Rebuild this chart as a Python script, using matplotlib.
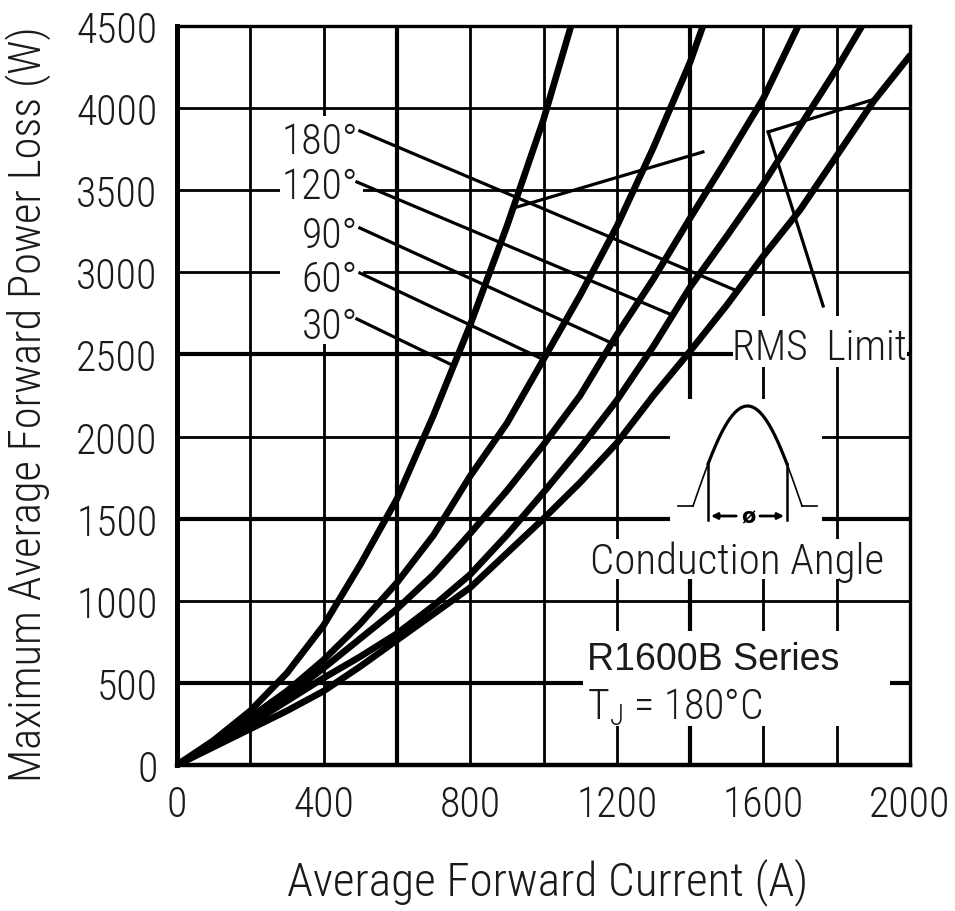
import numpy as np
import matplotlib
matplotlib.use('Agg')
import matplotlib.pyplot as plt
from matplotlib import font_manager
from matplotlib.font_manager import FontProperties
from matplotlib.patches import Rectangle

# values (A, W)
current_30 = [0, 100, 200, 300, 400, 500, 600, 700, 800, 900, 1000, 1075]
loss_30 = [0, 150, 330, 560, 850, 1220, 1620, 2130, 2680, 3280, 3930, 4500]

current_60 = [0, 100, 200, 300, 400, 500, 600, 700, 800, 900, 1000, 1100, 1200, 1300, 1400, 1435]
loss_60 = [0, 140, 290, 450, 640, 860, 1110, 1400, 1760, 2080, 2470, 2860, 3280, 3760, 4280, 4500]

current_90 = [0, 100, 200, 300, 400, 500, 600, 700, 800, 900, 1000, 1100, 1200, 1300, 1400, 1500, 1600, 1695]
loss_90 = [0, 130, 270, 420, 590, 770, 950, 1160, 1410, 1670, 1950, 2250, 2620, 2960, 3330, 3690, 4060, 4500]

current_120 = [0, 100, 200, 300, 400, 500, 600, 700, 800, 900, 1000, 1100, 1200, 1300, 1400, 1500, 1600, 1700, 1800, 1869]
loss_120 = [0, 120, 250, 390, 530, 660, 800, 970, 1160, 1400, 1660, 1930, 2220, 2550, 2910, 3220, 3540, 3890, 4240, 4500]

current_180 = [0, 100, 200, 300, 400, 500, 600, 700, 800, 900, 1000, 1100, 1200, 1300, 1400, 1500, 1600, 1700, 1800, 1900, 2000]
loss_180 = [0, 110, 220, 330, 450, 600, 760, 920, 1080, 1290, 1500, 1720, 1960, 2250, 2520, 2800, 3100, 3380, 3710, 4040, 4320]

angle_labels = ['180°', '120°', '90°', '60°', '30°']
label_y = [3794, 3520, 3227, 2959, 2673]
leader_start = [(499, 3861), (491, 3550), (499, 3270), (499, 2996), (491, 2716)]
leader_end = [(1531, 2884), (1353, 2738), (1195, 2560), (993, 2476), (753, 2433)]

# RMS limit pointer lines
rms_lines = [[(928, 3398), (1435, 3733)],
             [(1613, 3855), (1905, 4056)],
             [(1613, 3855), (1763, 2795)]]

x_ticks = [0, 400, 800, 1200, 1600, 2000]
y_ticks = [0, 500, 1000, 1500, 2000, 2500, 3000, 3500, 4000, 4500]


# the scan uses a thin condensed face; look for one
def weight_num(w):
    if isinstance(w, (int, float)):
        return w
    return {'ultralight': 200, 'light': 300, 'normal': 400, 'regular': 400, 'book': 400,
            'medium': 500}.get(str(w).lower(), 700)


cond_path = None
best = None
for f in font_manager.fontManager.ttflist:
    is_cond = ('condensed' in str(f.stretch)) or ('Narrow' in f.name) or ('Condensed' in f.name)
    if not is_cond or f.style != 'normal':
        continue
    if 'extra' in str(f.stretch) or 'ultra' in str(f.stretch):
        continue
    pref = 0 if 'Narrow' in f.name else 1 if 'Roboto' in f.name else 2
    score = (abs(weight_num(f.weight) - 300), pref)
    if best is None or score < best:
        best = score
        cond_path = f.fname

if cond_path:
    k = 1.0

    def fp(size):
        return FontProperties(fname=cond_path, size=size)
else:
    k = 0.82

    def fp(size):
        return FontProperties(family='Liberation Sans', size=size)

txt = '#1a1a1a'

fig = plt.figure(figsize=(9.55, 9.12), dpi=100)
L, R, T, B = 177, 910, 27, 766
W, H = 955, 912
ax = fig.add_axes([L / W, 1 - B / H, (R - L) / W, (B - T) / H])
ax.set_xlim(0, 2000)
ax.set_ylim(0, 4500)

# grid
for gx in range(200, 2000, 200):
    ax.axvline(gx, color='k', lw=3.0 if gx in (600, 1400) else 2.0, zorder=1)
for gy in range(500, 4500, 500):
    ax.axhline(gy, color='k', lw=3.0 if gy in (500, 1500, 2500) else 2.0, zorder=1)


def px_box(x0, y0, x1, y1):
    return Rectangle(((x0 - L) / (R - L), (B - y1) / (B - T)), (x1 - x0) / (R - L), (y1 - y0) / (B - T),
                     transform=ax.transAxes, facecolor='white', edgecolor='none', zorder=2)


for box in [(280, 117, 363, 345), (733, 317, 907, 368), (585, 540, 890, 580), (583, 632, 890, 727)]:
    ax.add_patch(px_box(*box))

for cx, cy in [(current_30, loss_30), (current_60, loss_60), (current_90, loss_90),
               (current_120, loss_120), (current_180, loss_180)]:
    ax.plot(cx, cy, color='k', lw=4.8, solid_capstyle='round', zorder=3)

for lab, ly, s, e in zip(angle_labels, label_y, leader_start, leader_end):
    ax.text(494, ly, lab, ha='right', va='center', fontproperties=fp(30 * k), color=txt, zorder=4)
    ax.plot([s[0], e[0]], [s[1], e[1]], color='k', lw=2.3, zorder=3)

for seg in rms_lines:
    ax.plot([seg[0][0], seg[1][0]], [seg[0][1], seg[1][1]], color='k', lw=2.3, zorder=3)

ax.text(1754, 2545, 'RMS  Limit', ha='center', va='center', fontproperties=fp(30 * k), color=txt, zorder=4)
ax.text(1528, 1242, 'Conduction Angle', ha='center', va='center', fontproperties=fp(31 * k), color=txt, zorder=4)
ax.text(1119, 645, 'R1600B Series', ha='left', va='center',
        fontproperties=FontProperties(family='Liberation Sans', size=27), color=txt, zorder=4)
ax.text(1119, 359, r'T$_\mathregular{J}$ = 180°C', ha='left', va='center', fontproperties=fp(30 * k),
        color=txt, zorder=4)

ax.set_xticks(x_ticks)
ax.set_yticks(y_ticks)
ax.tick_params(length=0, pad=14, labelcolor=txt)
for lbl in ax.get_xticklabels() + ax.get_yticklabels():
    lbl.set_fontproperties(fp(30 * k))
ax.spines['left'].set_linewidth(3.6)
ax.spines['bottom'].set_linewidth(3.2)
ax.spines['top'].set_linewidth(2.4)
ax.spines['right'].set_linewidth(2.4)

ax.set_xlabel('Average Forward Current (A)', fontproperties=fp(34 * k), color=txt, va='top')
ax.xaxis.set_label_coords(0.505, -0.125)
ax.set_ylabel('Maximum Average Forward Power Loss (W)', fontproperties=fp(32 * k), color=txt)
ax.yaxis.set_label_coords(-0.172, 0.49)

# conduction angle sketch
ins = fig.add_axes([670 / W, 1 - 540 / H, 152 / W, 140 / H])
ins.set_facecolor('white')
ins.set_xticks([])
ins.set_yticks([])
for sp in ins.spines.values():
    sp.set_visible(False)
ins.set_xlim(-38, 213)
ins.set_ylim(-0.33, 1.07)
th = np.linspace(0, 180, 181)
wave = np.sin(np.radians(th))
on = (th >= 25) & (th <= 155)
ins.plot(th[on], wave[on], color='k', lw=2.3)
ins.plot(th[th <= 25], wave[th <= 25], color='k', lw=1.2)
ins.plot(th[th >= 155], wave[th >= 155], color='k', lw=1.2)
ins.plot([-25, 0], [0, 0], color='k', lw=1.2)
ins.plot([180, 205], [0, 0], color='k', lw=1.2)
for a in (25, 155):
    ins.plot([a, a], [np.sin(np.radians(a)), -0.14], color='k', lw=1.8)
ins.annotate('', xy=(25, -0.1), xytext=(76, -0.1),
             arrowprops=dict(arrowstyle='-|>', color='k', lw=2, mutation_scale=9))
ins.annotate('', xy=(155, -0.1), xytext=(106, -0.1),
             arrowprops=dict(arrowstyle='-|>', color='k', lw=2, mutation_scale=9))
ins.text(91, -0.1, 'ø', ha='center', va='center', fontsize=15, fontweight='bold', color='k')

fig.savefig('out.png', dpi=100)
